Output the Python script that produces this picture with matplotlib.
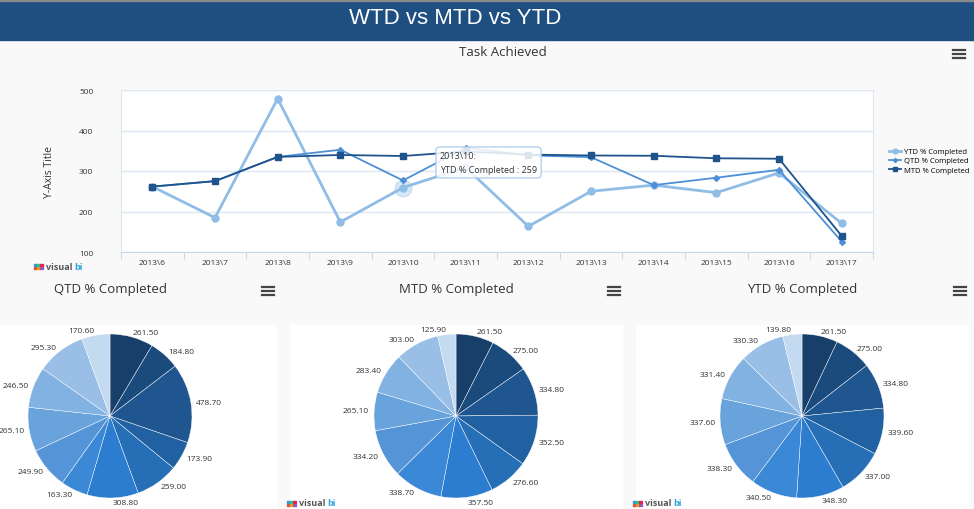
import matplotlib
matplotlib.use("Agg")
import matplotlib.pyplot as plt
from matplotlib.patches import Rectangle
from matplotlib.lines import Line2D

W, H = 974, 510

periods = ["2013\\6", "2013\\7", "2013\\8", "2013\\9", "2013\\10", "2013\\11",
           "2013\\12", "2013\\13", "2013\\14", "2013\\15", "2013\\16", "2013\\17"]
ytd = [261.5, 184.8, 478.7, 173.9, 259.0, 308.8, 163.3, 249.9, 265.1, 246.5, 295.3, 170.6]
qtd = [261.5, 275.0, 334.8, 352.5, 276.6, 357.5, 338.7, 334.2, 265.1, 283.4, 303.0, 125.9]
mtd = [261.5, 275.0, 334.8, 339.6, 337.0, 348.3, 340.5, 338.3, 337.6, 331.4, 330.3, 139.8]
y_ticks = [100, 200, 300, 400, 500]

pie_titles = ["QTD % Completed", "MTD % Completed", "YTD % Completed"]
pie_series = [ytd, qtd, mtd]
pie_colors = ["#173f6a", "#1b4b7d", "#1f5690", "#2261a1", "#266eb6", "#2c7dcf",
              "#3b88d6", "#5595d7", "#68a3dc", "#82b2e2", "#9abfe7", "#c3daf1"]

plt.rcParams["font.family"] = ["Open Sans", "DejaVu Sans"]
TXT = "#333333"


def px_axes(fig, l, t, r, b):
    return fig.add_axes([l / W, 1 - b / H, (r - l) / W, (b - t) / H])


def fy(y):
    return 1 - y / H


def hamburger(fig, x, y):
    for dy in (-4, 0, 4):
        fig.add_artist(Line2D([(x - 6) / W, (x + 6) / W], [fy(y + dy)] * 2,
                              color="#444444", lw=1.6))


def logo(fig, x, y):
    dots = ["#e84c3d", "#f39c12", "#9b59b6", "#3498db", "#2ecc71", "#e91e63"]
    for i, c in enumerate(dots):
        fig.add_artist(Rectangle(((x + (i % 3) * 3) / W, fy(y + 3 - (i // 3) * 3)),
                                 2.5 / W, 2.5 / H, color=c))
    fig.text((x + 12) / W, fy(y), "visual", fontsize=6.5, color="#555555",
             fontweight="bold", va="center")
    fig.text((x + 40) / W, fy(y), "bi", fontsize=6.5, color="#2aa4dc",
             fontweight="bold", va="center")


fig = plt.figure(figsize=(W / 100, H / 100), dpi=100)
fig.patch.set_facecolor("#f9f9f9")

# header bar
fig.add_artist(Rectangle((0, fy(41)), 1, 41 / H, color="#1e4f80"))
fig.add_artist(Rectangle((0, fy(1.5)), 1, 1.5 / H, color="#8a8a8a"))
fig.text(455 / W, fy(18), "WTD vs MTD vs YTD", color="white", fontsize=16,
         ha="center", va="center", family="Liberation Sans")
fig.text(503 / W, fy(53), "Task Achieved", color=TXT, fontsize=9.5,
         ha="center", va="center")
hamburger(fig, 959, 55)

# line chart
ax = px_axes(fig, 121, 91, 873, 253)
ax.set_facecolor("white")
x = list(range(len(periods)))
ax.plot(x, ytd, color="#90bde6", lw=2.0, marker="o", ms=5, label="YTD % Completed", zorder=3)
ax.plot(4, ytd[4], "o", ms=12, color="#90bde6", alpha=0.35, zorder=3)
ax.plot(x, qtd, color="#4d90d6", lw=1.3, marker="D", ms=3, label="QTD % Completed", zorder=4)
ax.plot(x, mtd, color="#1f538b", lw=1.3, marker="s", ms=5, label="MTD % Completed", zorder=5)
ax.set_xlim(-0.5, len(periods) - 0.5)
ax.set_ylim(100, 500)
ax.set_yticks(y_ticks)
ax.set_xticks([i - 0.5 for i in range(len(periods) + 1)])
ax.set_xticklabels([])
ax.set_xticks(x, minor=True)
ax.set_xticklabels(periods, minor=True, fontsize=6, color=TXT)
ax.tick_params(axis="x", which="major", length=5, color="#ccd6eb")
ax.tick_params(axis="x", which="minor", length=0, pad=5)
ax.tick_params(axis="y", length=0, labelsize=6, labelcolor=TXT, pad=20)
ax.grid(axis="y", color="#dde7f2", lw=1)
ax.set_axisbelow(True)
for s in ax.spines.values():
    s.set_color("#dde7f2")
ax.spines["bottom"].set_color("#ccd6eb")
ax.set_ylabel("Y-Axis Title", fontsize=7.5, color=TXT, labelpad=17)

fig.legend(loc="upper left", bbox_to_anchor=(882 / W, fy(142)), frameon=False,
           fontsize=5.5, handlelength=1.6, labelspacing=0.25, handletextpad=0.4,
           markerscale=0.7)

fig.text(440 / W, fy(152), "2013\\10:\nYTD % Completed : 259", fontsize=6.5, color=TXT,
         va="top", ha="left", linespacing=1.7,
         bbox=dict(boxstyle="round,pad=0.45", fc="white", ec="#a8c8ea", alpha=0.85))
logo(fig, 34, 267)

# pie panels
panels = [(0, 276), (290, 622), (636, 968)]
centers = [(110, 417), (456, 417), (802, 417)]
R = 82
for (pl, pr), (cx, cy), title, vals in zip(panels, centers, pie_titles, pie_series):
    fig.add_artist(Rectangle((pl / W, 0), (pr - pl) / W, fy(326), color="white", zorder=0))
    fig.text(cx / W, fy(290), title, fontsize=9.5, color=TXT, ha="center", va="center")
    hamburger(fig, pr - 8, 292)
    s = R * 1.6
    pax = px_axes(fig, cx - s, cy - s, cx + s, cy + s)
    pax.pie(vals, colors=pie_colors, startangle=90, counterclock=False,
            labels=["%.2f" % v for v in vals], labeldistance=1.06,
            wedgeprops=dict(edgecolor="white", linewidth=0.3),
            textprops=dict(fontsize=6, color=TXT))
    pax.set_xlim(-1.6, 1.6)
    pax.set_ylim(-1.6, 1.6)
    pax.axis("off")
    if pl > 0:
        logo(fig, pl - 3, 504)

fig.savefig("out.png", dpi=100, facecolor=fig.get_facecolor())
